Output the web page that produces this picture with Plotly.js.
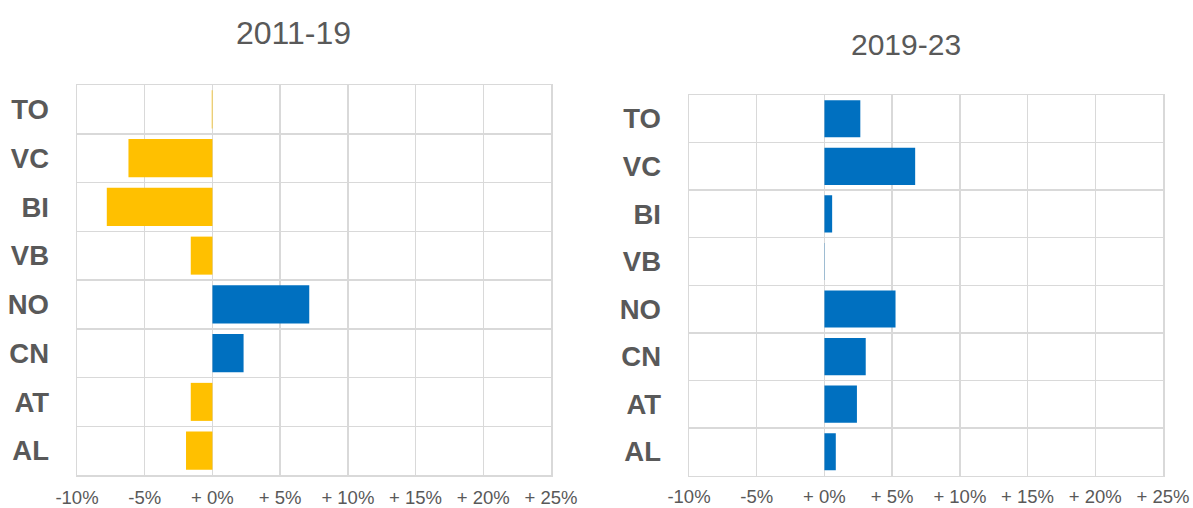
<!DOCTYPE html>
<html>
<head>
<meta charset="utf-8">
<script src="https://cdn.plot.ly/plotly-3.0.1.min.js"></script>
<style>html,body{margin:0;padding:0;background:#fff;}#chart{width:1193px;height:508px;}</style>
</head>
<body>
<div id="chart"></div>
<script>
// Regions, top to bottom as drawn
const categories = ["TO", "VC", "BI", "VB", "NO", "CN", "AT", "AL"];
// Percentage change 2011-19
const change2011_19 = [-0.05, -6.2, -7.8, -1.6, 7.15, 2.3, -1.6, -1.95];
// Percentage change 2019-23
const change2019_23 = [2.65, 6.7, 0.57, 0.02, 5.25, 3.05, 2.4, 0.84];
// Axis ticks
const xTickValues = [-10, -5, 0, 5, 10, 15, 20, 25];
const xTickLabels = ["-10%", "-5%", "+ 0%", "+ 5%", "+ 10%", "+ 15%", "+ 20%", "+ 25%"];
const panelTitles = ["2011-19", "2019-23"];

const BLUE = "#0070C0", YELLOW = "#FFC000", GRID = "#D9D9D9", TXT = "#595959";
const colorsFor = vals => vals.map(v => v > 0 ? BLUE : YELLOW);

const traces = [
  {type: "bar", orientation: "h", y: categories, x: change2011_19,
   marker: {color: colorsFor(change2011_19), line: {width: 0}},
   xaxis: "x", yaxis: "y", hoverinfo: "x+y"},
  {type: "bar", orientation: "h", y: categories, x: change2019_23,
   marker: {color: colorsFor(change2019_23), line: {width: 0}},
   xaxis: "x2", yaxis: "y2", hoverinfo: "x+y"}
];

const xAxisBase = {
  range: [-10, 25], tickmode: "array", tickvals: xTickValues, ticktext: xTickLabels,
  showgrid: true, gridcolor: GRID, gridwidth: 1.5, zeroline: false,
  showline: true, mirror: true, linecolor: GRID, linewidth: 1.5,
  ticks: "", tickfont: {family: "Liberation Sans, Arial, sans-serif", size: 18.5, color: TXT},
  ticklabelstandoff: 5, fixedrange: true
};
const yAxisBase = {
  type: "category", categoryorder: "array", categoryarray: categories,
  autorange: "reversed", tickson: "boundaries",
  showgrid: true, gridcolor: GRID, gridwidth: 1.5, zeroline: false,
  showline: true, mirror: true, linecolor: GRID, linewidth: 1.5,
  ticks: "", tickfont: {family: "Liberation Sans, Arial, sans-serif", size: 27.5, color: TXT, weight: "bold"},
  ticklabelstandoff: 21, fixedrange: true
};

const layout = {
  width: 1193, height: 508,
  margin: {l: 0, r: 0, t: 0, b: 0},
  paper_bgcolor: "#ffffff", plot_bgcolor: "#ffffff",
  showlegend: false, bargap: 0.22,
  xaxis: Object.assign({}, xAxisBase, {domain: [77/1193, 551/1193], anchor: "y"}),
  yaxis: Object.assign({}, yAxisBase, {domain: [(508-475)/508, (508-85)/508], anchor: "x"}),
  xaxis2: Object.assign({}, xAxisBase, {domain: [689/1193, 1163/1193], anchor: "y2", ticklabelstandoff: 4}),
  yaxis2: Object.assign({}, yAxisBase, {domain: [(508-475.5)/508, (508-95)/508], anchor: "x2"}),
  annotations: [
    {text: panelTitles[0], xref: "paper", yref: "paper", x: 293/1193, y: (508-33)/508,
     xanchor: "center", yanchor: "middle", showarrow: false,
     font: {family: "Liberation Sans, Arial, sans-serif", size: 32, color: TXT}},
    {text: panelTitles[1], xref: "paper", yref: "paper", x: 905.5/1193, y: (508-44.5)/508,
     xanchor: "center", yanchor: "middle", showarrow: false,
     font: {family: "Liberation Sans, Arial, sans-serif", size: 30, color: TXT}}
  ]
};

Plotly.newPlot("chart", traces, layout, {displayModeBar: false, staticPlot: true});
</script>
</body>
</html>
